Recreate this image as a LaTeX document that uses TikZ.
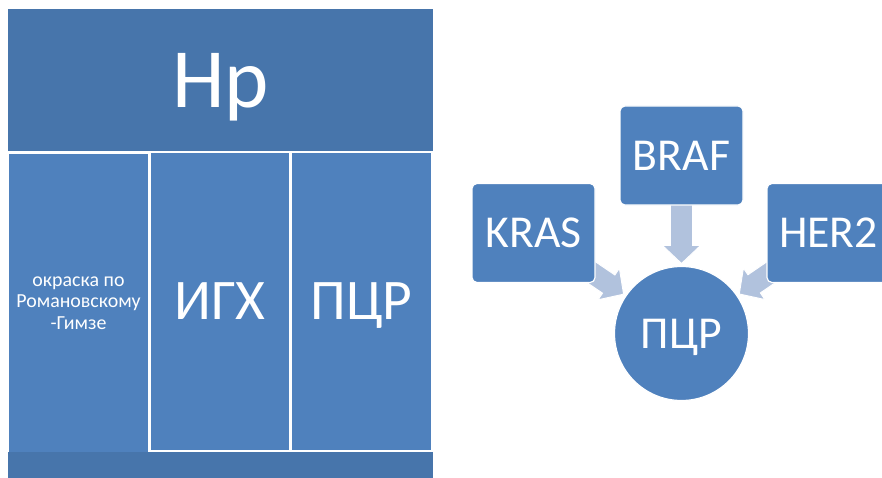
\documentclass[tikz,border=0pt]{standalone}
\usepackage{fontspec}
\setmainfont{Carlito}
\usetikzlibrary{calc,backgrounds}
\definecolor{hpdark}{RGB}{71,117,171}
\definecolor{hpblue}{RGB}{79,129,189}
\definecolor{hparrow}{RGB}{177,194,221}
\tikzset{
  band/.style={fill=hpdark, inner sep=0pt, text=white, minimum width=12.75cm},
  cell/.style={fill=hpblue, inner sep=0pt, text=white, align=center, minimum height=8.91cm},
  gene/.style={fill=hpblue, draw=white, line width=1pt, rounded corners=0.15cm, inner sep=0pt,
    minimum width=3.69cm, minimum height=2.97cm, text=white, font=\fontsize{39}{40}\selectfont},
  fat/.style={fill=hparrow, draw=white, line width=0.8pt, line join=miter},
}
% block arrow from node #1 towards node #2
\newcommand{\fatarrow}[2]{%
  \coordinate (tip) at ($(#2.center)!2.1cm!(#1.center)$);
  \coordinate (bs) at ($(tip)!0.54cm!(#1.center)$);
  \filldraw[fat] ($(#1.center)!0.33cm!90:(tip)$) -- ($(bs)!0.33cm!90:(tip)$)
    -- ($(bs)!0.57cm!90:(tip)$) -- (tip) -- ($(bs)!0.57cm!-90:(tip)$)
    -- ($(bs)!0.33cm!-90:(tip)$) -- ($(#1.center)!0.33cm!-90:(tip)$) -- cycle;
}
\begin{document}
\begin{tikzpicture}[x=0.03cm, y=-0.03cm]
\useasboundingbox (0,0) rectangle (882,478);
\clip (0,0) rectangle (882,478);

\node[band, minimum height=4.26cm, font=\fontsize{72}{72}\selectfont, text depth=0pt] (hp) at (220.5,80) {Hp};
\node[cell, minimum width=4.17cm, font=\fontsize{17}{18.3}\selectfont] (rg) at (78.5,303) {окраска по\\Романовскому\\-Гимзе};
\node[cell, minimum width=4.14cm, font=\fontsize{49}{50}\selectfont] (igh) at (220,301.5) {ИГХ};
\node[cell, minimum width=4.17cm, font=\fontsize{49}{50}\selectfont, text depth=0pt] (pcrcol) at (361.5,301.5) {ПЦР};
\node[band, minimum height=0.84cm] (bar) at (220.5,466) {};

\node[gene] (braf) at (681.5,155.5) {BRAF};
\node[gene] (kras) at (533.5,233) {KRAS};
\node[gene] (her) at (828.5,233) {HER2};
\node[circle, fill=hpblue, draw=white, line width=1pt, inner sep=0pt, minimum size=4.02cm,
  text=white, font=\fontsize{39}{40}\selectfont, text depth=0pt] (pcr) at (681.5,333.5) {ПЦР};

\begin{pgfonlayer}{background}
\fatarrow{kras}{pcr}
\fatarrow{braf}{pcr}
\fatarrow{her}{pcr}
\end{pgfonlayer}
\end{tikzpicture}
\end{document}
